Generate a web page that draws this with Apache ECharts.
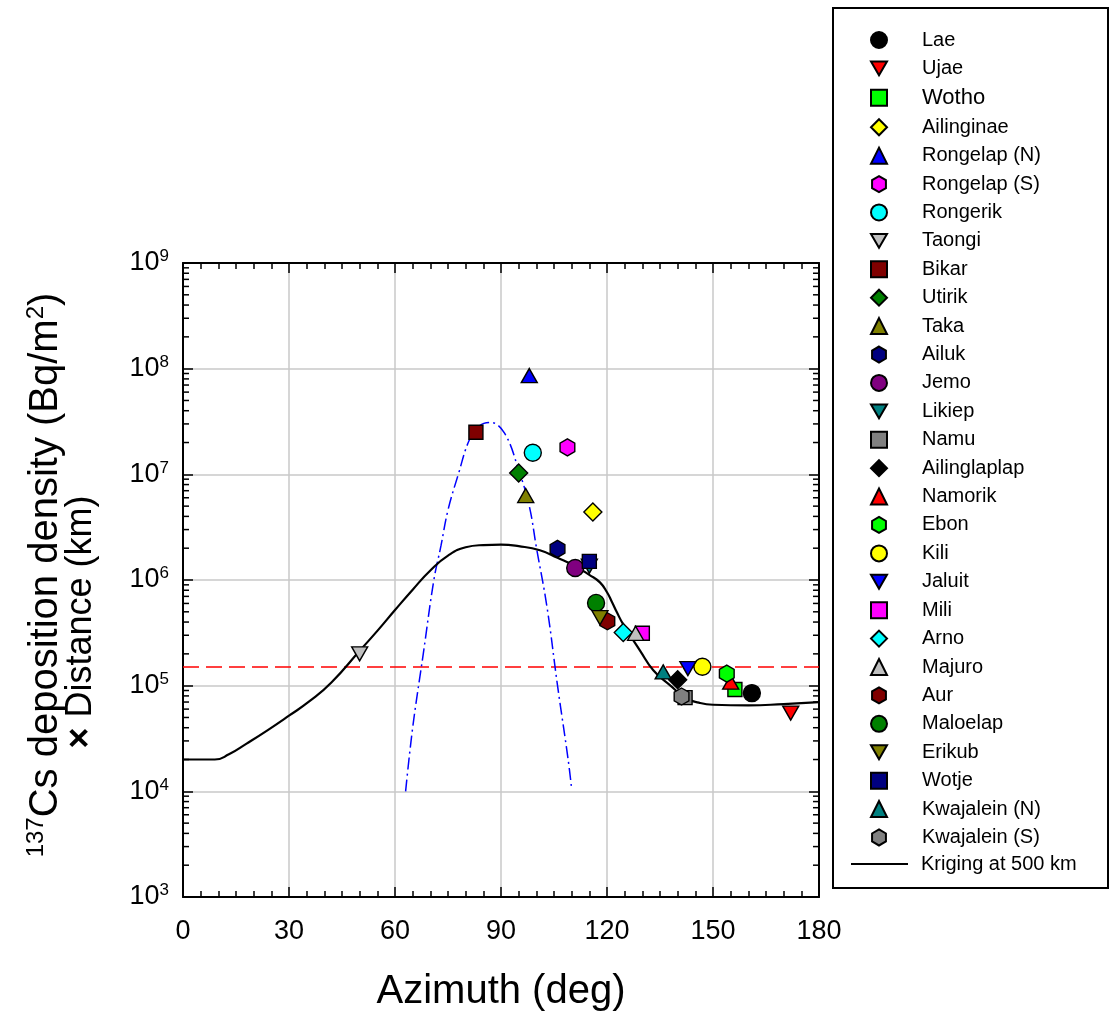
<!DOCTYPE html>
<html><head><meta charset="utf-8">
<script src="https://cdn.jsdelivr.net/npm/echarts@6/dist/echarts.min.js"></script>
<style>html,body{margin:0;padding:0;background:#fff}#c{width:1110px;height:1016px}</style>
</head><body><div id="c"></div>
<script>
// ---------- data ----------
const xTicks = [0, 30, 60, 90, 120, 150, 180];
const yDecades = [3, 4, 5, 6, 7, 8, 9];

const siteNames = ['Lae','Ujae','Wotho','Ailinginae','Rongelap (N)','Rongelap (S)','Rongerik','Taongi','Bikar','Utirik','Taka','Ailuk','Jemo','Likiep','Namu','Ailinglaplap','Namorik','Ebon','Kili','Jaluit','Mili','Arno','Majuro','Aur','Maloelap','Erikub','Wotje','Kwajalein (N)','Kwajalein (S)'];
const siteAzimuth = [161.0,172.0,156.2,116.0,98.0,108.8,99.0,50.0,82.9,95.0,97.0,106.0,111.0,115.0,142.1,140.0,155.0,153.9,147.0,142.9,130.0,124.6,128.1,120.1,116.9,118.0,115.0,135.9,141.1];
const siteDensity = [8.5e4,5.5e4,9.2e4,4.4e6,8.6e7,1.8e7,1.6e7,2.0e5,2.5e7,1.03e7,6.3e6,1.97e6,1.3e6,1.35e6,7.7e4,1.14e5,1.08e5,1.3e5,1.51e5,1.45e5,3.13e5,3.18e5,3.13e5,4.07e5,6.07e5,4.4e5,1.5e6,1.35e5,7.9e4];

const krigAzimuth = [0,5,9,13,18,24,30,36,42,50,55,60,65,70,75,80,85,90,95,101,106,111,115,118,120,121.4,122.8,124.6,129.3,133.1,137.8,142.6,146,150,160,170,180];
const krigDensity = [2.0e4,2.0e4,2.0e4,2.24e4,2.83e4,3.8e4,5.2e4,7.2e4,1.07e5,2.14e5,3.3e5,5.2e5,8.1e5,1.23e6,1.70e6,2.04e6,2.14e6,2.16e6,2.09e6,1.91e6,1.62e6,1.35e6,1.12e6,9.5e5,7.65e5,6.2e5,4.95e5,3.8e5,2.16e5,1.4e5,1.01e5,7.55e4,6.9e4,6.6e4,6.5e4,6.7e4,7.0e4];

const peakAzimuth = [63,65,68,71,73,75,78,81,84,87,91,95,98,100,103,106,109,110];
const peakDensity = [1.0e4,4.0e4,2.0e5,1.0e6,2.1e6,4.6e6,1.02e7,2.1e7,2.9e7,3.1e7,2.45e7,1.1e7,5.0e6,2.05e6,5.6e5,1.0e5,2.0e4,1.05e4];

const thresholdAzimuth = [0, 180];
const thresholdDensity = [1.5e5, 1.5e5];

const krigName = 'Kriging at 500 km';

// ---------- styles ----------
const FONT = 'Liberation Sans, Arial, Helvetica, sans-serif';
const HEX = 'path://M0,-1 L0.866,-0.5 L0.866,0.5 L0,1 L-0.866,0.5 L-0.866,-0.5 Z';
const DOWN = 'path://M0,0 L2,0 L1,1.732 Z';
const shapes = {
  circle: {symbol: 'circle', size: 17, rot: 0, icon: 'circle'},
  square: {symbol: 'rect', size: 14, rot: 0, icon: 'rect'},
  diamond: {symbol: 'diamond', size: 18, rot: 0, icon: 'diamond'},
  up: {symbol: 'triangle', size: [16, 14], rot: 0, icon: 'triangle'},
  down: {symbol: 'triangle', size: [16, 14], rot: 180, icon: DOWN},
  hex: {symbol: HEX, size: 17, rot: 0, icon: HEX}
};
const siteShape = ['circle','down','square','diamond','up','hex','circle','down','square','diamond','up','hex','circle','down','square','diamond','up','hex','circle','down','square','diamond','up','hex','circle','down','square','up','hex'];
const siteColor = ['#000000','#ff0000','#00ff00','#ffff00','#0000ff','#ff00ff','#00ffff','#c0c0c0','#800000','#008000','#808000','#000080','#800080','#008080','#808080','#000000','#ff0000','#00ff00','#ffff00','#0000ff','#ff00ff','#00ffff','#c0c0c0','#800000','#008000','#808000','#000080','#008080','#808080'];

// ---------- series ----------
const series = [];
const minorTickVals = [];
yDecades.slice(0, -1).forEach(e => { for (let m = 2; m <= 9; m++) minorTickVals.push([0, m * Math.pow(10, e)]); });

series.push({
  type: 'line', name: 'threshold', data: thresholdAzimuth.map((a, i) => [a, thresholdDensity[i]]),
  symbol: 'none', silent: true, z: 1,
  lineStyle: {color: '#ff0000', width: 1.6, type: [16, 7]}
});
series.push({
  type: 'line', name: 'peak', data: peakAzimuth.map((a, i) => [a, peakDensity[i]]),
  symbol: 'none', smooth: 0.4, silent: true, z: 1,
  lineStyle: {color: '#0000ff', width: 1.5, type: [12, 4, 2, 4]}
});
series.push({
  type: 'line', name: krigName, data: krigAzimuth.map((a, i) => [a, krigDensity[i]]),
  symbol: 'none', showSymbol: false, smooth: 0.5, silent: true, z: 2,
  lineStyle: {color: '#000000', width: 2.2}, itemStyle: {color: '#000000'}
});
siteNames.forEach((n, i) => {
  const sh = shapes[siteShape[i]];
  series.push({
    type: 'scatter', name: n, z: 3,
    data: [[siteAzimuth[i], siteDensity[i]]],
    symbol: sh.symbol, symbolSize: sh.size, symbolRotate: sh.rot, symbolKeepAspect: true,
    itemStyle: {color: siteColor[i], borderColor: '#000', borderWidth: 1.4, opacity: 1},
    emphasis: {disabled: true}
  });
});
series.push({
  type: 'custom', silent: true, z: 5, data: minorTickVals,
  renderItem(params, api) {
    const v = api.value(1);
    const a = api.coord([xTicks[0], v]);
    const b = api.coord([xTicks[xTicks.length - 1], v]);
    return {type: 'group', children: [
      {type: 'line', shape: {x1: a[0], y1: a[1], x2: a[0] + 6, y2: a[1]}, style: {stroke: '#000', lineWidth: 1.5}},
      {type: 'line', shape: {x1: b[0] - 6, y1: b[1], x2: b[0], y2: b[1]}, style: {stroke: '#000', lineWidth: 1.5}}
    ]};
  }
});

const axisLineStyle = {show: true, onZero: false, lineStyle: {color: '#000', width: 2}};
const logLabel = v => '{b|10}{s|' + Math.round(Math.log10(v)) + '}';

const option = {
  animation: false,
  backgroundColor: '#ffffff',
  textStyle: {fontFamily: FONT},
  grid: {left: 183, right: 291, top: 263, bottom: 119, outerBoundsMode: 'none', containLabel: false},
  xAxis: [
    {
      type: 'value', min: xTicks[0], max: xTicks[xTicks.length - 1], interval: 30, position: 'bottom',
      axisLine: axisLineStyle,
      axisTick: {show: true, inside: true, length: 10, lineStyle: {color: '#000', width: 1.5}},
      minorTick: {show: true, splitNumber: 6, length: 6, lineStyle: {color: '#000', width: 1.5}},
      axisLabel: {show: true, margin: 21, fontSize: 27, color: '#000', fontFamily: FONT},
      splitLine: {show: true, lineStyle: {color: '#c8c8c8', width: 1.5}},
      name: 'Azimuth (deg)', nameLocation: 'middle', nameGap: 75,
      nameTextStyle: {fontSize: 40, color: '#000', fontFamily: FONT}
    },
    {
      type: 'value', min: xTicks[0], max: xTicks[xTicks.length - 1], interval: 30, position: 'top',
      axisLine: axisLineStyle,
      axisTick: {show: true, inside: true, length: 10, lineStyle: {color: '#000', width: 1.5}},
      minorTick: {show: true, splitNumber: 6, length: 6, lineStyle: {color: '#000', width: 1.5}},
      axisLabel: {show: false}, splitLine: {show: false}
    }
  ],
  yAxis: [
    {
      type: 'log', logBase: 10, min: Math.pow(10, yDecades[0]), max: Math.pow(10, yDecades[yDecades.length - 1]),
      splitNumber: 6, position: 'left',
      axisLine: axisLineStyle,
      axisTick: {show: true, inside: true, length: 10, lineStyle: {color: '#000', width: 1.5}},
      minorTick: {show: false},
      axisLabel: {
        show: true, margin: 14, color: '#000', formatter: logLabel,
        rich: {
          b: {fontSize: 27, fontFamily: FONT, color: '#000', lineHeight: 30},
          s: {fontSize: 17, fontFamily: FONT, color: '#000', verticalAlign: 'top'}
        }
      },
      splitLine: {show: true, lineStyle: {color: '#c8c8c8', width: 1.5}}
    },
    {
      type: 'log', logBase: 10, min: Math.pow(10, yDecades[0]), max: Math.pow(10, yDecades[yDecades.length - 1]),
      splitNumber: 6, position: 'right',
      axisLine: axisLineStyle,
      axisTick: {show: true, inside: true, length: 10, lineStyle: {color: '#000', width: 1.5}},
      axisLabel: {show: false}, splitLine: {show: false}
    }
  ],
  legend: [
    {
      orient: 'vertical', left: 870, top: 30, padding: 0, itemWidth: 16, itemHeight: 16, itemGap: 8.41,
      selectedMode: false,
      data: siteNames.map((n, i) => {
        const item = {name: n, icon: shapes[siteShape[i]].icon};
        if (n === 'Wotho') item.textStyle = {fontSize: 22};
        return item;
      }),
      formatter: n => '{g| }' + n,
      textStyle: {fontSize: 20, fontFamily: FONT, color: '#000', lineHeight: 20, rich: {g: {width: 30}}}
    },
    {
      orient: 'vertical', left: 851, top: 854, padding: 0, itemWidth: 57, itemHeight: 2.2,
      selectedMode: false,
      data: [{name: krigName, icon: 'rect'}],
      itemStyle: {color: '#000', borderWidth: 0},
      formatter: n => '{g| }' + n,
      textStyle: {fontSize: 20, fontFamily: FONT, color: '#000', lineHeight: 20, rich: {g: {width: 8}}}
    }
  ],
  graphic: [
    {
      type: 'rect', z: 100, silent: true,
      shape: {x: 833, y: 8, width: 275, height: 880},
      style: {fill: 'none', stroke: '#000', lineWidth: 2}
    },
    {
      type: 'text', z: 100, silent: true, rotation: Math.PI / 2, x: 46, y: 575,
      style: {
        text: '{s|137}{b|Cs deposition density (Bq/m}{s|2}{b|)}',
        textAlign: 'center', textVerticalAlign: 'middle',
        rich: {
          b: {fontSize: 40, fontFamily: FONT, fill: '#000', lineHeight: 44},
          s: {fontSize: 24, fontFamily: FONT, fill: '#000', verticalAlign: 'top'}
        }
      }
    },
    {
      type: 'text', z: 100, silent: true, rotation: Math.PI / 2, x: 81, y: 622,
      style: {
        text: '{x|×}{b| Distance (km)}',
        textAlign: 'center', textVerticalAlign: 'middle',
        rich: {
          b: {fontSize: 36, fontFamily: FONT, fill: '#000', lineHeight: 44},
          x: {fontSize: 36, fontFamily: FONT, fontWeight: 'bold', fill: '#000', lineHeight: 44}
        }
      }
    }
  ],
  series: series
};

const chart = echarts.init(document.getElementById('c'), null, {renderer: 'canvas'});
chart.setOption(option);
</script>
</body></html>
